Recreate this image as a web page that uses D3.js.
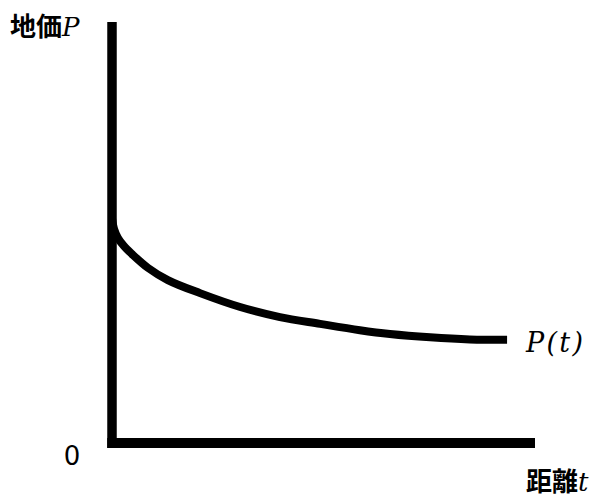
<!DOCTYPE html>
<html>
<head>
<meta charset="utf-8">
<script src="https://cdn.jsdelivr.net/npm/d3@7"></script>
<style>
  html, body { margin: 0; padding: 0; background: #fff; }
  svg { display: block; }
</style>
</head>
<body>
<div id="chart"></div>
<script>
// ---- data (arbitrary units) ----
const tValues = [0, 0.05, 0.14, 0.28, 0.47, 0.85, 1.32, 2.08, 3.03, 3.97, 4.92, 5.86, 6.57, 7.52, 8.46, 9.34];
const pValues = [5.34, 5.08, 4.87, 4.68, 4.49, 4.16, 3.87, 3.56, 3.23, 2.99, 2.83, 2.68, 2.59, 2.51, 2.46, 2.45];
const tDomain = [0, 10];
const pDomain = [0, 10];
const yLabel = ["地価", "P"];
const xLabel = ["距離", "t"];
const curveLabel = "P(t)";
const originLabel = "0";

const W = 605, H = 498;
const svg = d3.select("#chart").append("svg").attr("width", W).attr("height", H);

const x = d3.scaleLinear().domain(tDomain).range([112, 535]);
const y = d3.scaleLinear().domain(pDomain).range([443, 22]);

// axes
svg.append("line")
  .attr("x1", x(0)).attr("x2", x(0))
  .attr("y1", y(pDomain[1])).attr("y2", y(0) + 5)
  .attr("stroke", "#000").attr("stroke-width", 9.5);
svg.append("line")
  .attr("x1", x(0) - 4.75).attr("x2", x(tDomain[1]))
  .attr("y1", y(0)).attr("y2", y(0))
  .attr("stroke", "#000").attr("stroke-width", 10);

// curve
const pts = tValues.map((t, i) => [t, pValues[i]]);
const line = d3.line().x(d => x(d[0])).y(d => y(d[1])).curve(d3.curveCatmullRom.alpha(0.5));
svg.append("path")
  .attr("d", line(pts))
  .attr("fill", "none").attr("stroke", "#000").attr("stroke-width", 8);

// labels
const cjk = "'Noto Sans CJK JP', 'Noto Sans CJK SC', sans-serif";
const mathFont = "'DejaVu Serif', 'Liberation Serif', serif";

const yl = svg.append("text").attr("x", 10).attr("y", 36)
  .attr("font-size", 26).attr("font-family", cjk).attr("font-weight", "bold");
yl.append("tspan").text(yLabel[0]);
yl.append("tspan").text(yLabel[1]).attr("font-family", mathFont)
  .attr("font-style", "italic").attr("font-weight", "normal");

const xl = svg.append("text").attr("x", 526).attr("y", 491)
  .attr("font-size", 26).attr("font-family", cjk).attr("font-weight", "bold");
xl.append("tspan").text(xLabel[0]);
xl.append("tspan").text(xLabel[1]).attr("font-family", mathFont)
  .attr("font-style", "italic").attr("font-weight", "normal");

svg.append("text").attr("x", 526).attr("y", 352)
  .attr("font-size", 27).attr("font-family", mathFont).attr("font-style", "italic")
  .attr("textLength", 57).attr("lengthAdjust", "spacing")
  .text(curveLabel);

svg.append("text").attr("x", 72).attr("y", 465)
  .attr("text-anchor", "middle")
  .attr("font-size", 26).attr("font-family", "'DejaVu Sans', sans-serif")
  .text(originLabel);
</script>
</body>
</html>
